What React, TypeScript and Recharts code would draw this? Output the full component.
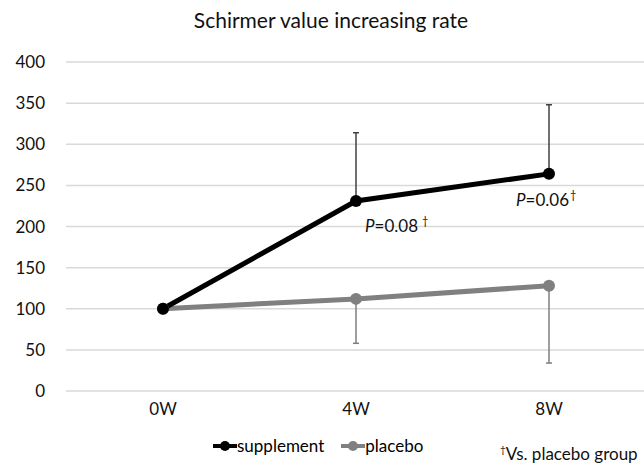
import { LineChart, Line, XAxis, YAxis, CartesianGrid, ErrorBar, Legend, ReferenceDot } from "recharts";

const weeks = ["0W", "4W", "8W"];
const supplement = [100, 231, 264];
const supplementSd = [0, 83, 84];
const placebo = [100, 112, 128];
const placeboSd = [0, 54, 94];
const pValues = ["", "0.08", "0.06"];
const yTicks = [0, 50, 100, 150, 200, 250, 300, 350, 400];

const FONT = "Lato, 'Open Sans', sans-serif";

const data = weeks.map((week, i) => ({
  week,
  supplement: supplement[i],
  supplementErr: [0, supplementSd[i]],
  placebo: placebo[i],
  placeboErr: [placeboSd[i], 0],
}));

// P-value note next to a supplement point
const PLabel = ({ viewBox, text, dx, dy, gap }: any) => {
  if (!viewBox) return null;
  const cx = viewBox.x + viewBox.width / 2;
  const cy = viewBox.y + viewBox.height / 2;
  return (
    <text x={cx + dx} y={cy + dy} fontSize={17} fontFamily={FONT} fill="#111">
      <tspan fontStyle="italic">P</tspan>
      <tspan>={text}</tspan>
      <tspan fontSize={11} dx={gap} dy={-7}>{"\u2020"}</tspan>
    </text>
  );
};

const LegendContent = () => (
  <div style={{ display: "flex", paddingLeft: 213, fontFamily: FONT, fontSize: 17, alignItems: "center" }}>
    {[
      { name: "supplement", color: "#000" },
      { name: "placebo", color: "#808080" },
    ].map((s) => (
      <div key={s.name} style={{ display: "flex", alignItems: "center", marginRight: 17 }}>
        <svg width={24} height={12}>
          <line x1={0} y1={6} x2={24} y2={6} stroke={s.color} strokeWidth={4} />
          <circle cx={12} cy={6} r={5} fill={s.color} />
        </svg>
        <span>{s.name}</span>
      </div>
    ))}
  </div>
);

const App = () => {
  return (
    <div style={{ position: "absolute", left: 0, top: 0, width: 644, height: 467, background: "#fff", overflow: "hidden" }}>
      <div
        style={{
          position: "absolute",
          top: 7,
          left: 0,
          width: 662,
          textAlign: "center",
          fontFamily: FONT,
          fontSize: 21,
          color: "#111",
        }}
      >
        Schirmer value increasing rate
      </div>
      <LineChart width={644} height={467} data={data} margin={{ top: 62, right: 0, left: 0, bottom: 8 }}>
        <CartesianGrid vertical={false} stroke="#d9d9d9" strokeWidth={1.5} />
        <XAxis
          dataKey="week"
          axisLine={false}
          tickLine={false}
          height={44}
          tickMargin={6}
          padding={{ left: 97, right: 95 }}
          tick={{ fontSize: 17, fontFamily: FONT, fill: "#111" }}
        />
        <YAxis
          domain={[0, 400]}
          ticks={yTicks}
          width={66}
          axisLine={false}
          tickLine={false}
          tickMargin={15}
          tick={{ fontSize: 17, fontFamily: FONT, fill: "#111" }}
        />
        <Legend verticalAlign="bottom" height={24} content={<LegendContent />} />
        <Line
          dataKey="placebo"
          stroke="#808080"
          strokeWidth={5}
          dot={{ r: 6, fill: "#808080", stroke: "#808080", strokeWidth: 0 }}
          isAnimationActive={false}
        >
          <ErrorBar dataKey="placeboErr" direction="y" width={3} stroke="#7f7f7f" strokeWidth={1.5} />
        </Line>
        <Line
          dataKey="supplement"
          stroke="#000"
          strokeWidth={5}
          dot={{ r: 6, fill: "#000", stroke: "#000", strokeWidth: 0 }}
          isAnimationActive={false}
        >
          <ErrorBar dataKey="supplementErr" direction="y" width={3} stroke="#404040" strokeWidth={1.5} />
        </Line>
        {weeks.map((w, i) =>
          pValues[i] ? (
            <ReferenceDot
              key={w}
              x={w}
              y={supplement[i]}
              r={0}
              fill="none"
              stroke="none"
              label={
                <PLabel
                  text={pValues[i]}
                  dx={i === 1 ? 9 : -33}
                  dy={i === 1 ? 31 : 32}
                  gap={i === 1 ? 4 : 1}
                />
              }
            />
          ) : null
        )}
      </LineChart>
      <div
        style={{
          position: "absolute",
          left: 500,
          top: 444,
          fontFamily: FONT,
          fontSize: 17,
          lineHeight: "20px",
          color: "#111",
          whiteSpace: "nowrap",
        }}
      >
        <sup style={{ fontSize: 10, lineHeight: 0 }}>{"\u2020"}</sup>Vs. placebo group
      </div>
    </div>
  );
};

export default App;
